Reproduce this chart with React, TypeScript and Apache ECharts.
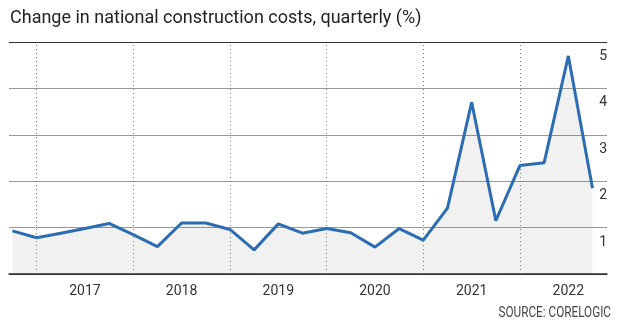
import React, { useEffect, useRef } from "react";
import * as echarts from "echarts";

const quarters = [
  "2016 Q4",
  "2017 Q1", "2017 Q2", "2017 Q3", "2017 Q4",
  "2018 Q1", "2018 Q2", "2018 Q3", "2018 Q4",
  "2019 Q1", "2019 Q2", "2019 Q3", "2019 Q4",
  "2020 Q1", "2020 Q2", "2020 Q3", "2020 Q4",
  "2021 Q1", "2021 Q2", "2021 Q3", "2021 Q4",
  "2022 Q1", "2022 Q2", "2022 Q3", "2022 Q4",
];
const costChange = [
  0.93,
  0.78, 0.88, 0.98, 1.09,
  0.85, 0.59, 1.1, 1.1,
  0.96, 0.52, 1.08, 0.88,
  0.98, 0.89, 0.58, 0.98,
  0.73, 1.42, 3.7, 1.15,
  2.34, 2.4, 4.7, 1.85,
];
const yTicks = [0, 1, 2, 3, 4, 5];
const titleText = "Change in national construction costs, quarterly (%)";
const sourceText = "SOURCE: CORELOGIC";

export default function App() {
  const ref = useRef<HTMLDivElement>(null);
  useEffect(() => {
    if (!ref.current) return;
    const chart = echarts.init(ref.current, null, { renderer: "svg" });
    const yearStarts = quarters.map((q, i) => (q.endsWith("Q1") ? i : -1)).filter((i) => i >= 0);
    const yearMids = quarters.map((q, i) => (q.endsWith("Q3") ? i : -1)).filter((i) => i >= 0);
    const font = "Roboto";
    chart.setOption({
      animation: false,
      grid: { left: 9, right: 13, top: 42, bottom: 55 },
      xAxis: {
        type: "value",
        min: -0.14,
        max: 24.6,
        axisLine: { show: true, lineStyle: { color: "#333", width: 1.5 } },
        axisTick: { show: false },
        splitLine: { show: false },
        axisLabel: {
          customValues: yearMids,
          formatter: (v: number) => quarters[Math.round(v)].slice(0, 4),
          color: "#333",
          fontSize: 14,
          fontFamily: font,
          margin: 9,
        },
      },
      yAxis: {
        type: "value",
        position: "right",
        min: yTicks[0],
        max: yTicks[yTicks.length - 1],
        interval: 1,
        axisLine: { show: false },
        axisTick: { show: false },
        splitLine: {
          lineStyle: { color: ["#333", "#999", "#999", "#999", "#999", "#333"], width: 1 },
        },
        axisLabel: {
          inside: true,
          showMinLabel: false,
          verticalAlign: "top",
          lineHeight: 26,
          margin: 0,
          color: "#333",
          fontSize: 14,
          fontFamily: font,
        },
      },
      series: [
        {
          type: "line",
          data: quarters.map((q, i) => [i, costChange[i]]),
          symbol: "none",
          lineStyle: { color: "#2c6cb2", width: 3 },
          areaStyle: { color: "rgba(0,0,0,0.08)" },
          markLine: {
            silent: true,
            symbol: ["none", "none"],
            label: { show: false },
            lineStyle: { type: [1, 3], color: "#777", width: 1 },
            data: yearStarts.map((i) => ({ xAxis: i })),
          },
        },
      ],
      graphic: [
        {
          type: "text",
          left: 10,
          top: 7,
          style: { text: titleText, fontSize: 18, fontFamily: font, fill: "#222" },
        },
        {
          type: "text",
          x: 611,
          y: 312,
          scaleX: 0.84,
          style: {
            text: sourceText,
            fontSize: 14,
            fontFamily: font,
            fill: "#444",
            align: "right",
            verticalAlign: "middle",
          },
        },
      ],
    });
    return () => chart.dispose();
  }, []);
  return <div ref={ref} style={{ position: "fixed", left: 0, top: 0, width: 620, height: 329 }} />;
}
